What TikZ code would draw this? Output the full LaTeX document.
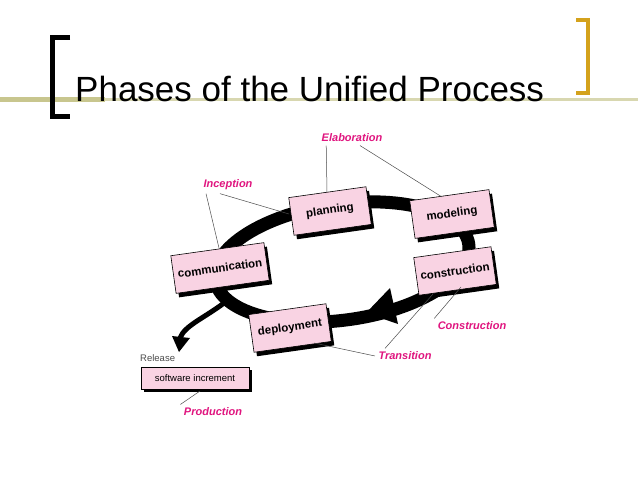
\documentclass[tikz,border=0pt]{standalone}
\usepackage{fontspec}
\setmainfont{Liberation Sans}
\usetikzlibrary{shadows,arrows.meta}
\definecolor{pinkfill}{HTML}{F9D3E3}
\definecolor{lab}{HTML}{E0157F}
\definecolor{olive}{HTML}{C8C68E}
\definecolor{gold}{HTML}{D4A21C}
\tikzset{
 phase/.style={draw=black, fill=pinkfill, line width=0.6pt, minimum height=38pt, inner sep=2pt, rotate=8,
   font=\fontsize{11.5}{12}\selectfont\bfseries, drop shadow={shadow xshift=3pt, shadow yshift=-4pt, fill=black, opacity=1}},
 lbl/.style={text=lab, font=\fontsize{11}{12}\selectfont\bfseries\itshape},
 lk/.style={draw=black!70, line width=0.5pt}
}
\begin{document}
\begin{tikzpicture}[x=1pt,y=-1pt]
\useasboundingbox (0,0) rectangle (638,479);
\fill[white] (0,0) rectangle (638,479);
% header
\fill[olive] (0,97) rectangle (105,102);
\fill[olive!70] (105,98) rectangle (638,101);
\draw[line width=5pt, black] (70,37) -- (52,37) -- (52,116) -- (70,116);
\draw[line width=4pt, gold] (576,20) -- (588,20) -- (588,93) -- (576,93);
\node[anchor=base west, font=\fontsize{35}{38}\selectfont, inner sep=0] (title) at (75,101) {Phases of the Unified Process};
% loop
\draw[line width=13pt, black, rotate around={8:(342,262)}] (342,262) ellipse (128 and 58);
\fill[black] (366,313) -- (390,288) -- (398,324) -- cycle;
\draw[line width=5pt, black] (228,300) .. controls (205,318) and (185,325) .. (180,338);
\fill[black] (172,336) -- (190,338) -- (179,352) -- cycle;
% boxes
\node[phase, minimum width=78pt] (plan) at (330,211) {planning};
\node[phase, minimum width=80pt] (mod) at (452,214) {modeling};
\node[phase, minimum width=94pt] (comm) at (220,268) {communication};
\node[phase, minimum width=78pt] (cons) at (455,271) {construction};
\node[phase, minimum width=78pt] (dep) at (290,328) {deployment};
\node[draw=black, fill=pinkfill, minimum width=108pt, minimum height=22pt, inner sep=1pt, font=\fontsize{9.5}{10}\selectfont,
  drop shadow={shadow xshift=3pt, shadow yshift=-3pt, fill=black, opacity=1}] (sw) at (195,378) {software increment};
\node[anchor=south west, inner sep=0, text=black!70, font=\fontsize{9.5}{10}\selectfont] (rel) at (140,362) {Release};
% labels
\node[lbl] (elab) at (352,138) {Elaboration};
\node[lbl] (inc) at (228,185) {Inception};
\node[lbl] (con) at (472,326) {Construction};
\node[lbl] (tra) at (405,356) {Transition};
\node[lbl] (prod) at (213,412) {Production};
\coordinate (c1) at (327,192);
\coordinate (c2) at (442,197);
\coordinate (c3) at (289,214);
\coordinate (c4) at (219,248);
\coordinate (c5) at (461,287);
\coordinate (c6) at (433,294);
\coordinate (c7) at (314,343);
\coordinate (c8) at (200,391);
\draw[lk] (elab.south west) ++(8,0) -- (c1);
\draw[lk] (elab.south) ++(8,0) -- (c2);
\draw[lk] (inc.south) ++(-8,0) -- (c3);
\draw[lk] (inc.south west) ++(6,0) -- (c4);
\draw[lk] (con.north west) ++(0,0) -- (c5);
\draw[lk] (tra.north west) ++(10,0) -- (c6);
\draw[lk] (tra.west) -- (c7);
\draw[lk] (prod.north west) ++(0,0) -- (c8);
\end{tikzpicture}
\end{document}
